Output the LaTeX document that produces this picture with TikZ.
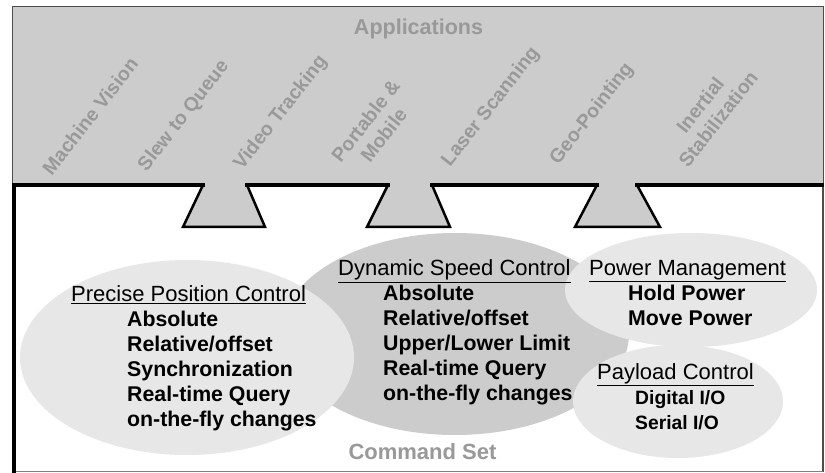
\documentclass[tikz,border=0pt]{standalone}
\usepackage{fontspec}
\setmainfont{Liberation Sans}
\definecolor{topgray}{gray}{0.80}
\definecolor{darkell}{gray}{0.80}
\definecolor{lightell}{gray}{0.905}
\definecolor{titlegray}{gray}{0.60}
\definecolor{edgegray}{gray}{0.30}
\begin{document}
\begin{tikzpicture}[x=1pt,y=-1pt,
  title/.style={text=titlegray,font=\bfseries\fontsize{21.5}{25}\selectfont,anchor=base,inner sep=0pt},
  app/.style={text=titlegray,font=\bfseries\fontsize{19.5}{23}\selectfont,rotate=52,align=center,inner sep=0pt,anchor=center},
  head/.style={anchor=base west,inner sep=0pt,font=\fontsize{22}{26}\selectfont},
  item/.style={anchor=base west,inner sep=0pt,font=\bfseries\fontsize{21.3}{25}\selectfont},
  smallitem/.style={anchor=base west,inner sep=0pt,font=\bfseries\fontsize{19.3}{23}\selectfont},
  thickedge/.style={line width=4pt,black,line cap=rect},
  trapedge/.style={line width=2.5pt,black,line join=miter},
]
\useasboundingbox (0,0) rectangle (825,473);
% application area
\fill[topgray] (12.5,6.5) rectangle (823.5,471.5);
\draw[edgegray,line width=1.5pt] (12.5,6.5) rectangle (823.5,471.5);
% command set area with notches
\fill[white] (14,471) -- (14,185) -- (203,185) -- (183,227) -- (265,227) -- (247,185)
  -- (388,185) -- (367,227) -- (450,227) -- (432,185)
  -- (597,185) -- (575,227) -- (660,227) -- (637,185)
  -- (823,185) -- (823,471) -- cycle;
\draw[edgegray,line width=2pt] (823,185) -- (823,471);
\draw[gray,line width=1.5pt] (14,471.5) -- (823,471.5);
\draw[trapedge] (203,185) -- (183,227) -- (265,227) -- (247,185);
\draw[trapedge] (388,185) -- (367,227) -- (450,227) -- (432,185);
\draw[trapedge] (597,185) -- (575,227) -- (660,227) -- (637,185);
\draw[thickedge] (14,471) -- (14,185) -- (203,185);
\draw[thickedge] (247,185) -- (388,185);
\draw[thickedge] (432,185) -- (597,185);
\draw[thickedge] (637,185) -- (822,185);
% ellipses
\fill[darkell] (455,334) ellipse [x radius=174pt, y radius=101pt];
\fill[lightell] (187,357.5) ellipse [x radius=167pt, y radius=97.5pt];
\fill[lightell] (691,290) ellipse [x radius=126pt, y radius=57pt];
\fill[lightell] (678,401.5) ellipse [x radius=105pt, y radius=56.5pt];
% titles
\node[title] (apps) at (418.5,34.5) {Applications};
\node[title,font=\bfseries\fontsize{22}{26}\selectfont] (cmd) at (422.5,459) {Command Set};
% application labels
\node[app] (mv) at (90,116) {Machine Vision};
\node[app] (sq) at (184,116) {Slew to Queue};
\node[app] (vt) at (281,113) {Video Tracking};
\node[app] (pm) at (374.5,128) {Portable \&\\Mobile};
\node[app] (ls) at (491,107) {Laser Scanning};
\node[app] (gp) at (592,114) {Geo-Pointing};
\node[app] (is) at (709,112) {Inertial\\Stabilization};
% precise position control
\node[head] (pph) at (71,301.5) {\underline{Precise Position Control}};
\node[item] (pp1) at (127,326.5) {Absolute};
\node[item] (pp2) at (127,351.5) {Relative/offset};
\node[item] (pp3) at (127,376.5) {Synchronization};
\node[item] (pp4) at (127,401.5) {Real-time Query};
\node[item] (pp5) at (127,426.5) {on-the-fly changes};
% dynamic speed control
\node[head] (dsh) at (338,276) {\underline{Dynamic Speed Control}};
\node[item] (ds1) at (383,300.5) {Absolute};
\node[item] (ds2) at (383,325.5) {Relative/offset};
\node[item] (ds3) at (383,350.5) {Upper/Lower Limit};
\node[item] (ds4) at (383,375.5) {Real-time Query};
\node[item] (ds5) at (383,400.5) {on-the-fly changes};
% power management
\node[head] (pwh) at (589,275.5) {\underline{Power Management}};
\node[item] (pw1) at (628,300.5) {Hold Power};
\node[item] (pw2) at (628,325.5) {Move Power};
% payload control
\node[head] (plh) at (597,379.5) {\underline{Payload Control}};
\node[smallitem] (pl1) at (635,404.5) {Digital I/O};
\node[smallitem] (pl2) at (635,429.5) {Serial I/O};
\end{tikzpicture}
\end{document}
